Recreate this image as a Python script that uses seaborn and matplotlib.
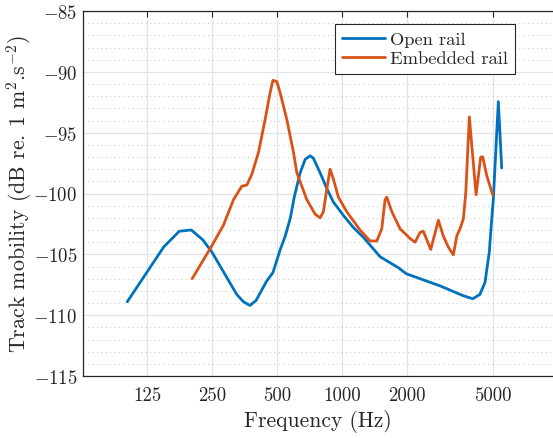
import numpy as np
import pandas as pd
import matplotlib
matplotlib.use('Agg')
import matplotlib.pyplot as plt
import seaborn as sns
from matplotlib.ticker import FixedLocator, FixedFormatter, MultipleLocator, NullLocator

# ------------------------------------------------
# DATA
# ------------------------------------------------
open_f = [101, 149, 176, 200, 226, 249, 325, 349, 374, 399, 447, 478, 517,
          545, 576, 600, 639, 674, 711, 736, 791, 850, 911, 1014, 1128, 1255,
          1500, 1823, 1985, 2850, 3640, 4030, 4350, 4595, 4810, 4935, 5020,
          5296, 5490]
open_db = [-108.9, -104.4, -103.1, -103.0, -103.8, -104.8, -108.3, -108.9,
           -109.2, -108.8, -107.2, -106.5, -104.6, -103.5, -102.0, -100.3,
           -98.3, -97.2, -96.9, -97.1, -98.3, -99.6, -100.7, -101.8, -102.8,
           -103.6, -105.2, -106.1, -106.6, -107.6, -108.4, -108.65, -108.3,
           -107.3, -104.8, -102.1, -100.5, -92.45, -97.9]

emb_f = [202, 249, 282, 314, 343, 362, 382, 410, 440, 464, 478, 498, 516,
         554, 595, 617, 686, 750, 791, 819, 850, 880, 911, 961, 1051, 1211,
         1348, 1448, 1527, 1582, 1611, 1700, 1856, 2065, 2178, 2297, 2379,
         2575, 2793, 2945, 3106, 3277, 3398, 3519, 3645, 3740, 3887, 4176,
         4389, 4485, 4676, 4986]
emb_db = [-107.0, -104.3, -102.6, -100.5, -99.4, -99.3, -98.4, -96.6, -93.9,
          -91.7, -90.7, -90.8, -91.7, -93.9, -96.6, -98.3, -100.5, -101.7,
          -102.0, -101.5, -99.6, -98.0, -98.8, -100.3, -101.5, -103.0,
          -103.9, -103.9, -102.9, -100.5, -100.3, -101.5, -102.9, -103.7,
          -104.0, -103.2, -103.1, -104.6, -102.2, -103.5, -104.4, -105.05,
          -103.5, -102.9, -102.1, -100.0, -93.7, -100.1, -97.0, -97.0,
          -98.5, -100.1]

series = ['Open rail', 'Embedded rail']
colors = ['#0072BD', '#D95319']

xticks = [125, 250, 500, 1000, 2000, 5000]
xtick_labels = ['125', '250', '500', '1000', '2000', '5000']
yticks = [-115, -110, -105, -100, -95, -90, -85]

df = pd.concat([
    pd.DataFrame({'f': open_f, 'db': open_db, 'kind': series[0]}),
    pd.DataFrame({'f': emb_f, 'db': emb_db, 'kind': series[1]}),
])

# ------------------------------------------------
# STYLE
# ------------------------------------------------
sns.set_theme(style='white')
plt.rcParams['font.family'] = ['serif']
plt.rcParams['font.serif'] = ['cmr10']
plt.rcParams['mathtext.fontset'] = 'cm'
plt.rcParams['axes.unicode_minus'] = True

fig = plt.figure(figsize=(5.53, 4.39), dpi=100)
ax = fig.add_axes([83 / 553, 62 / 439, 470 / 553, 365 / 439])

sns.lineplot(data=df, x='f', y='db', hue='kind', palette=colors,
             estimator=None, sort=False, linewidth=2.0, ax=ax, legend=False)

ax.set_xscale('log')
ax.set_xlim(63, 9490)
ax.set_ylim(-115, -85)

ax.xaxis.set_major_locator(FixedLocator(xticks))
ax.xaxis.set_major_formatter(FixedFormatter(xtick_labels))
ax.xaxis.set_minor_locator(NullLocator())
ax.yaxis.set_major_locator(FixedLocator(yticks))
ax.yaxis.set_major_formatter(FixedFormatter(['$-%d$' % abs(v) for v in yticks]))
ax.yaxis.set_minor_locator(MultipleLocator(1))

ax.grid(True, which='major', color='#e3e3e3', linewidth=0.9)
ax.grid(True, which='minor', axis='y', color='#cfcfcf', linestyle=(0, (1, 3)),
        linewidth=0.8)
ax.set_axisbelow(True)

for s in ['left', 'top', 'bottom']:
    ax.spines[s].set_color('#262626')
    ax.spines[s].set_linewidth(0.9)
ax.spines['right'].set_visible(False)

ax.tick_params(axis='both', which='major', direction='in', length=4,
               width=0.8, color='#262626', labelsize=13.5, labelcolor='#262626',
               top=True, right=False)
ax.tick_params(axis='y', which='minor', length=0)
ax.tick_params(axis='x', pad=7)
ax.tick_params(axis='y', pad=4)

ax.set_xlabel('Frequency (Hz)', fontsize=15.5, color='#262626', labelpad=4)
ax.set_ylabel(r'Track mobility (dB re. 1 m$^2$.s$^{-2}$)', fontsize=15.8,
              color='#262626')
ax.yaxis.set_label_coords(-0.104, 0.5)

handles = [plt.Line2D([], [], color=c, linewidth=2.0) for c in colors]
leg = ax.legend(handles, series, loc='upper right',
                bbox_to_anchor=(0.92, 0.964), fontsize=13.3, frameon=True,
                fancybox=False, framealpha=1, edgecolor='#262626',
                handlelength=2.3, handletextpad=0.3, borderpad=0.4,
                labelspacing=0.15, borderaxespad=0)
leg.get_frame().set_linewidth(0.8)

plt.savefig('out.png', dpi=100)
